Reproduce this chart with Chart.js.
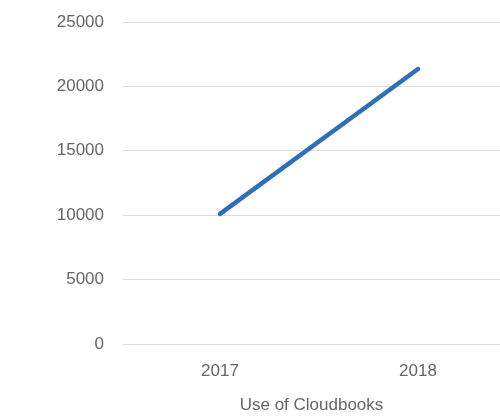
<!DOCTYPE html>
<html>
<head>
<meta charset="utf-8">
<script src="https://cdn.jsdelivr.net/npm/chart.js@4/dist/chart.umd.min.js"></script>
<style>
	body { margin: 0; background: #fff; }
</style>
</head>
<body>
<canvas id="myLineChart" width="500" height="420"></canvas>
<script>
// 데이터
var years = [2017, 2018];
var usage = [10100, 21350];
var yTicks = [0, 5000, 10000, 15000, 20000, 25000];

var fontFamily = "'Helvetica Neue', Helvetica, 'Liberation Sans', Arial, sans-serif";

var ctx = document.getElementById("myLineChart").getContext("2d");
window.myLineChart = new Chart(ctx, {
	type: "line",
	data: {
		datasets: [{
			label: "Use of Cloudbooks",
			data: years.map(function(y, i) { return { x: y, y: usage[i] }; }),
			borderColor: "#2e6fb6",
			borderWidth: 4.5,
			borderCapStyle: "round",
			pointRadius: 0,
			fill: false,
			tension: 0
		}]
	},
	options: {
		responsive: false,
		animation: false,
		layout: { padding: { top: 22, left: 0, right: 0, bottom: 0 } },
		plugins: {
			legend: { display: false },
			tooltip: { enabled: false }
		},
		scales: {
			x: {
				type: "linear",
				min: 2016.51,
				max: 2018.414,
				afterBuildTicks: function(scale) {
					scale.ticks = years.map(function(y) { return { value: y }; });
				},
				afterFit: function(scale) {
					scale.height = 76;
					scale.paddingLeft = 0;
					scale.paddingRight = 0;
				},
				grid: { display: false },
				border: { display: false },
				ticks: {
					color: "#666",
					font: { family: fontFamily, size: 17 },
					padding: 9,
					callback: function(v) { return String(v); }
				},
				title: {
					display: true,
					text: "Use of Cloudbooks",
					color: "#666",
					font: { family: fontFamily, size: 17 },
					padding: { top: 16 }
				}
			},
			y: {
				min: 0,
				max: 25000,
				afterBuildTicks: function(scale) {
					scale.ticks = yTicks.map(function(v) { return { value: v }; });
				},
				afterFit: function(scale) {
					scale.width = 123;
					scale.paddingTop = 0;
					scale.paddingBottom = 0;
				},
				grid: { color: "#dcdcdc", lineWidth: 1, drawTicks: false },
				border: { display: false },
				ticks: {
					color: "#666",
					font: { family: fontFamily, size: 17 },
					padding: 19,
					callback: function(v) { return String(v); }
				}
			}
		}
	}
});
</script>
</body>
</html>
